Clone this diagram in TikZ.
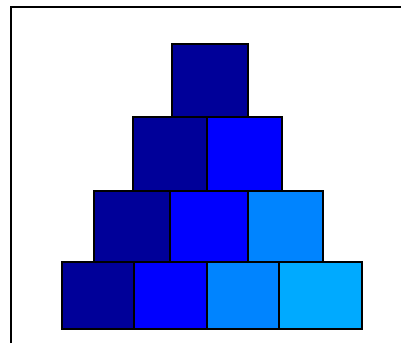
\documentclass[tikz,border=0pt]{standalone}
\usepackage{tikz}
\definecolor{navyblock}{RGB}{0,0,153}
\definecolor{blueblock}{RGB}{0,0,255}
\definecolor{midblock}{RGB}{0,132,255}
\definecolor{skyblock}{RGB}{0,170,255}

\begin{document}
\begin{tikzpicture}[x=1pt, y=-1pt,
  brick/.style={draw=black, line width=1.6pt, inner sep=0pt, outer sep=0pt},
  ]
  \useasboundingbox (0,0) rectangle (401,343);
  % frame (open on right and bottom)
  \coordinate (fbl) at (11,343);
  \coordinate (ftl) at (11,7);
  \coordinate (ftr) at (401,7);
  \draw[line width=1.6pt] (fbl) -- (ftl) -- (ftr);

  % row 1
  \node[brick, fill=navyblock, minimum width=76pt, minimum height=73pt] (r1a) at (210,80.5) {};
  % row 2
  \node[brick, fill=navyblock, minimum width=74pt, minimum height=74pt] (r2a) at (170,154) {};
  \node[brick, fill=blueblock, minimum width=75pt, minimum height=74pt] (r2b) at (244.5,154) {};
  % row 3
  \node[brick, fill=navyblock, minimum width=76pt, minimum height=71pt] (r3a) at (132,226.5) {};
  \node[brick, fill=blueblock, minimum width=78pt, minimum height=71pt] (r3b) at (209,226.5) {};
  \node[brick, fill=midblock, minimum width=75pt, minimum height=71pt] (r3c) at (285.5,226.5) {};
  % row 4
  \node[brick, fill=navyblock, minimum width=72pt, minimum height=67pt] (r4a) at (98,295.5) {};
  \node[brick, fill=blueblock, minimum width=73pt, minimum height=67pt] (r4b) at (170.5,295.5) {};
  \node[brick, fill=midblock, minimum width=72pt, minimum height=67pt] (r4c) at (243,295.5) {};
  \node[brick, fill=skyblock, minimum width=83pt, minimum height=67pt] (r4d) at (320.5,295.5) {};
\end{tikzpicture}
\end{document}
